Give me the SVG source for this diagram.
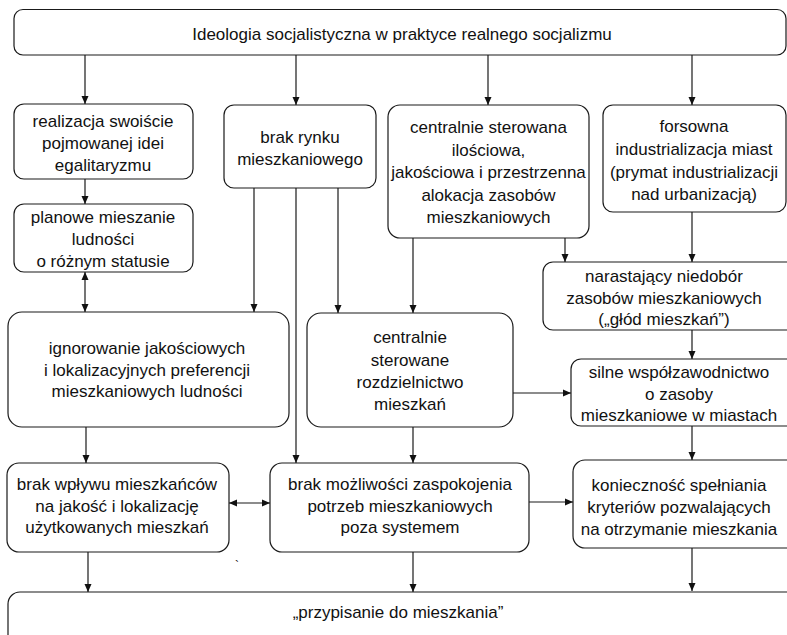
<svg xmlns="http://www.w3.org/2000/svg" width="787" height="635" viewBox="0 0 787 635">
  <style>
    .box { fill: #ffffff; stroke: #1a1a1a; stroke-width: 1.2; }
    .lbl { font-family: "Liberation Sans", Arial, sans-serif; font-size: 17px; fill: #111111; text-anchor: middle; }
    .con { fill: none; stroke: #1a1a1a; stroke-width: 1.2; marker-end: url(#arrow); }
    .both { marker-start: url(#arrow); }
  </style>
  <defs>
    <marker id="arrow" markerUnits="userSpaceOnUse" markerWidth="9" markerHeight="8" refX="8" refY="4" orient="auto-start-reverse">
      <path d="M0,0.5 L8,4 L0,7.5 z" fill="#111111"/>
    </marker>
  </defs>
  <rect width="787" height="635" fill="#ffffff"/>

  <!-- connectors -->
  <g id="connectors">
    <line class="con" x1="85" y1="55" x2="85" y2="104"/>
    <line class="con" x1="296" y1="55" x2="296" y2="105"/>
    <line class="con" x1="488" y1="55" x2="488" y2="105"/>
    <line class="con" x1="692" y1="55" x2="692" y2="105"/>
    <line class="con" x1="85" y1="179" x2="85" y2="204"/>
    <line class="con both" x1="85" y1="272" x2="85" y2="312"/>
    <line class="con" x1="254" y1="188" x2="254" y2="312"/>
    <line class="con" x1="296" y1="188" x2="296" y2="463"/>
    <line class="con" x1="338" y1="188" x2="338" y2="313"/>
    <line class="con" x1="413" y1="238" x2="413" y2="313"/>
    <line class="con" x1="565" y1="238" x2="565" y2="262"/>
    <line class="con" x1="692" y1="212" x2="692" y2="262"/>
    <line class="con" x1="692" y1="330" x2="692" y2="359"/>
    <line class="con" x1="513" y1="393" x2="571" y2="393"/>
    <line class="con" x1="86" y1="427" x2="86" y2="463"/>
    <line class="con" x1="413" y1="427" x2="413" y2="463"/>
    <line class="con" x1="692" y1="426" x2="692" y2="460"/>
    <line class="con both" x1="229" y1="503" x2="270" y2="503"/>
    <line class="con" x1="529" y1="502" x2="573" y2="502"/>
    <line class="con" x1="88" y1="552" x2="88" y2="592"/>
    <line class="con" x1="413" y1="552" x2="413" y2="592"/>
    <line class="con" x1="692" y1="548" x2="692" y2="591"/>
  </g>

  <g id="n-ideologia">
    <rect class="box" x="14" y="9.5" width="772" height="45.5" rx="9"/>
    <text class="lbl" x="402" y="40">Ideologia socjalistyczna w praktyce realnego socjalizmu</text>
  </g>

  <g id="n-egalitaryzm">
    <rect class="box" x="14" y="104" width="179" height="75" rx="10"/>
    <text class="lbl" x="103" y="127">realizacja swoiście</text>
    <text class="lbl" x="103" y="149">pojmowanej idei</text>
    <text class="lbl" x="103" y="171">egalitaryzmu</text>
  </g>

  <g id="n-brak-rynku">
    <rect class="box" x="224" y="105" width="152" height="83" rx="10"/>
    <text class="lbl" x="300" y="143">brak rynku</text>
    <text class="lbl" x="300" y="165">mieszkaniowego</text>
  </g>

  <g id="n-alokacja">
    <rect class="box" x="388" y="105" width="201" height="133" rx="12"/>
    <text class="lbl" x="488.5" y="133">centralnie sterowana</text>
    <text class="lbl" x="488.5" y="155.5">ilościowa,</text>
    <text class="lbl" x="488.5" y="178">jakościowa i przestrzenna</text>
    <text class="lbl" x="488.5" y="200.5">alokacja zasobów</text>
    <text class="lbl" x="488.5" y="223">mieszkaniowych</text>
  </g>

  <g id="n-industrializacja">
    <rect class="box" x="603" y="105" width="183" height="107" rx="10"/>
    <text class="lbl" x="694" y="132">forsowna</text>
    <text class="lbl" x="694" y="155">industrializacja miast</text>
    <text class="lbl" x="694" y="177.5">(prymat industrializacji</text>
    <text class="lbl" x="694" y="200">nad urbanizacją)</text>
  </g>

  <g id="n-mieszanie">
    <rect class="box" x="14" y="204" width="179" height="68" rx="10"/>
    <text class="lbl" x="103" y="223">planowe mieszanie</text>
    <text class="lbl" x="103" y="245">ludności</text>
    <text class="lbl" x="103" y="267">o różnym statusie</text>
  </g>

  <g id="n-niedobor">
    <rect class="box" x="543" y="262" width="262" height="68" rx="10"/>
    <text class="lbl" x="664" y="282">narastający niedobór</text>
    <text class="lbl" x="664" y="304">zasobów mieszkaniowych</text>
    <text class="lbl" x="664" y="325">(„głód mieszkań”)</text>
  </g>

  <g id="n-ignorowanie">
    <rect class="box" x="8" y="312" width="281" height="115" rx="14"/>
    <text class="lbl" x="147" y="354">ignorowanie jakościowych</text>
    <text class="lbl" x="147" y="376">i lokalizacyjnych preferencji</text>
    <text class="lbl" x="147" y="397">mieszkaniowych ludności</text>
  </g>

  <g id="n-rozdzielnictwo">
    <rect class="box" x="307" y="313" width="206" height="114" rx="14"/>
    <text class="lbl" x="410" y="343">centralnie</text>
    <text class="lbl" x="410" y="366">sterowane</text>
    <text class="lbl" x="410" y="388">rozdzielnictwo</text>
    <text class="lbl" x="410" y="410">mieszkań</text>
  </g>

  <g id="n-wspolzawodnictwo">
    <rect class="box" x="571" y="359" width="234" height="67" rx="10"/>
    <text class="lbl" x="679" y="378">silne współzawodnictwo</text>
    <text class="lbl" x="679" y="400">o zasoby</text>
    <text class="lbl" x="679" y="421">mieszkaniowe w miastach</text>
  </g>

  <g id="n-brak-wplywu">
    <rect class="box" x="7" y="463" width="222" height="89" rx="12"/>
    <text class="lbl" x="117" y="490">brak wpływu mieszkańców</text>
    <text class="lbl" x="117" y="512">na jakość i lokalizację</text>
    <text class="lbl" x="117" y="533">użytkowanych mieszkań</text>
  </g>

  <g id="n-brak-mozliwosci">
    <rect class="box" x="270" y="463" width="259" height="89" rx="12"/>
    <text class="lbl" x="400" y="490">brak możliwości zaspokojenia</text>
    <text class="lbl" x="400" y="512">potrzeb mieszkaniowych</text>
    <text class="lbl" x="400" y="533">poza systemem</text>
  </g>

  <g id="n-kryteria">
    <rect class="box" x="573" y="460" width="232" height="88" rx="12"/>
    <text class="lbl" x="679" y="491">konieczność spełniania</text>
    <text class="lbl" x="679" y="513">kryteriów pozwalających</text>
    <text class="lbl" x="679" y="535">na otrzymanie mieszkania</text>
  </g>

  <g id="n-przypisanie">
    <rect class="box" x="8" y="592" width="800" height="70" rx="12"/>
    <text class="lbl" x="398" y="618">„przypisanie do mieszkania”</text>
  </g>

  <text class="lbl" x="237" y="570" style="font-size:12px">`</text>
</svg>
